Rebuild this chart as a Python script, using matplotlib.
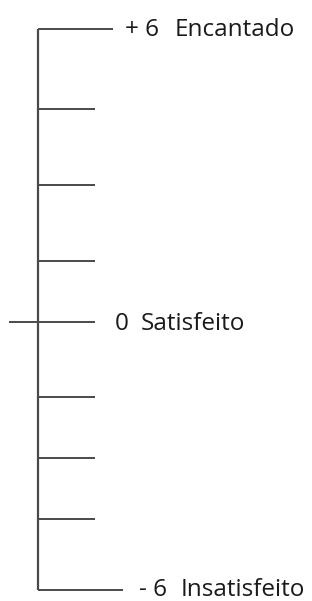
import matplotlib.pyplot as plt

# scale marks (image rows, measured from the top) and where each mark ends
mark_rows = [28.5, 109, 185, 261, 322, 397, 458, 519, 590]
mark_start = [38, 38, 38, 38, 9, 38, 38, 38, 38]
mark_end = [113, 95, 95, 95, 95, 95, 95, 95, 123]

# labels: (row, x of number, number, x of word, word)
label_rows = [29.5, 323.5, 590]
label_nums = ['+ 6', '0', '- 6']
label_num_x = [125, 115, 139]
label_words = ['Encantado', 'Satisfeito', 'Insatisfeito']
label_word_x = [175, 141, 181]

axis_x = 38
line_color = '#4a4a4a'

fig = plt.figure(figsize=(3.12, 6.01), dpi=100)
ax = fig.add_axes([0, 0, 1, 1])
ax.set_xlim(0, 312)
ax.set_ylim(601, 0)
ax.axis('off')

# main vertical line
ax.plot([axis_x, axis_x], [mark_rows[0], mark_rows[-1]], color=line_color, lw=1.6,
        solid_capstyle='butt')

# horizontal marks
for y, x0, x1 in zip(mark_rows, mark_start, mark_end):
    ax.plot([x0, x1], [y, y], color=line_color, lw=1.4, solid_capstyle='butt')

for y, nx, num, wx, word in zip(label_rows, label_num_x, label_nums, label_word_x, label_words):
    ax.text(nx, y, num, fontsize=17.5, family='Open Sans', color='#1a1a1a',
            ha='left', va='center')
    ax.text(wx, y, word, fontsize=17.5, family='Open Sans', color='#1a1a1a',
            ha='left', va='center')

fig.savefig('out.png', dpi=100)
